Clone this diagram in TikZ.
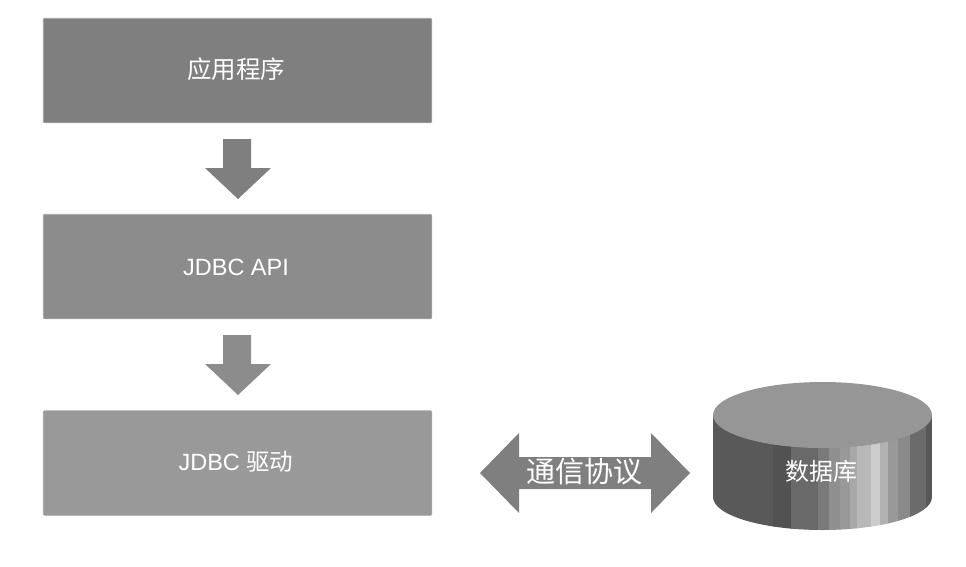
\documentclass[tikz,border=0pt]{standalone}
\usepackage{fontspec}
\setmainfont{Liberation Sans}
\newfontfamily\cjk{Noto Sans CJK SC}[Scale=1]
\definecolor{gA}{HTML}{7F7F7F}
\definecolor{gB}{HTML}{8C8C8C}
\definecolor{gC}{HTML}{999999}
\definecolor{gT}{HTML}{969696}
\tikzset{
  layerbox/.style={draw=black!35,line width=0.6pt,rounded corners=1pt,minimum width=388.5pt,minimum height=104.5pt,inner sep=0pt,anchor=center},
  blockarrow/.style={line join=miter,draw=none},
  band/.style={draw=none},
  label/.style={text=white,inner sep=0pt}
}
\newcommand{\bandseg}[3]{%
  \fill[band,fill=#3] (#1,415) -- (#2,415) -- (#2,531) -- (#1,531) -- cycle;}
\begin{document}
\begin{tikzpicture}[x=1pt,y=-1pt]
\useasboundingbox (0,0) rectangle (966,566);
% layers
\node[layerbox,fill=gA] (app) at (237.5,70.5) {};
\node[layerbox,fill=gB] (api) at (237.5,266.5) {};
\node[layerbox,fill=gC] (drv) at (237.5,463) {};
\node[label,font=\fontsize{24.5}{28}\selectfont\cjk] (appt) at (236,69) {应用程序};
\node[label,font=\fontsize{23.5}{26}\selectfont] (apit) at (236,267) {JDBC API};
\node[label,font=\fontsize{23.5}{26}\selectfont] (drvt) at (236,462) {JDBC \cjk 驱动};
% down arrows
\fill[blockarrow,fill=gA] (223,139) -- (251,139) -- (251,168) -- (271,168) -- (238,199) -- (205,168) -- (223,168) -- cycle;
\fill[blockarrow,fill=gB] (223,335) -- (251,335) -- (251,364) -- (271,364) -- (238,395) -- (205,364) -- (223,364) -- cycle;
% double arrow
\fill[blockarrow,fill=gA] (480,473) -- (519,433) -- (519,457) -- (651,457) -- (651,433) -- (690,473) -- (651,513) -- (651,489) -- (519,489) -- (519,513) -- cycle;
\node[label,font=\fontsize{29}{32}\selectfont\cjk] (proto) at (584,472) {通信协议};
% database
\begin{scope}
\clip (713,415) -- (713,497) arc[start angle=180,end angle=0,x radius=109.5,y radius=33] -- (932,415) -- cycle;
\bandseg{713}{774}{black!65}
\bandseg{773}{792}{black!68}
\bandseg{791}{819}{black!59}
\bandseg{818}{830}{black!52}
\bandseg{829}{841}{black!44}
\bandseg{840}{851}{black!40}
\bandseg{850}{858}{black!34}
\bandseg{857}{872}{black!28}
\bandseg{871}{881}{black!20}
\bandseg{880}{889}{black!30}
\bandseg{888}{899}{black!40}
\bandseg{898}{911}{black!46}
\bandseg{910}{927}{black!58}
\bandseg{926}{932}{black!66}
\end{scope}
\fill[gT] (822.5,415) ellipse[x radius=109.5,y radius=33];
\node[label,font=\fontsize{24}{28}\selectfont\cjk] (db) at (821,471) {数据库};
\end{tikzpicture}
\end{document}
